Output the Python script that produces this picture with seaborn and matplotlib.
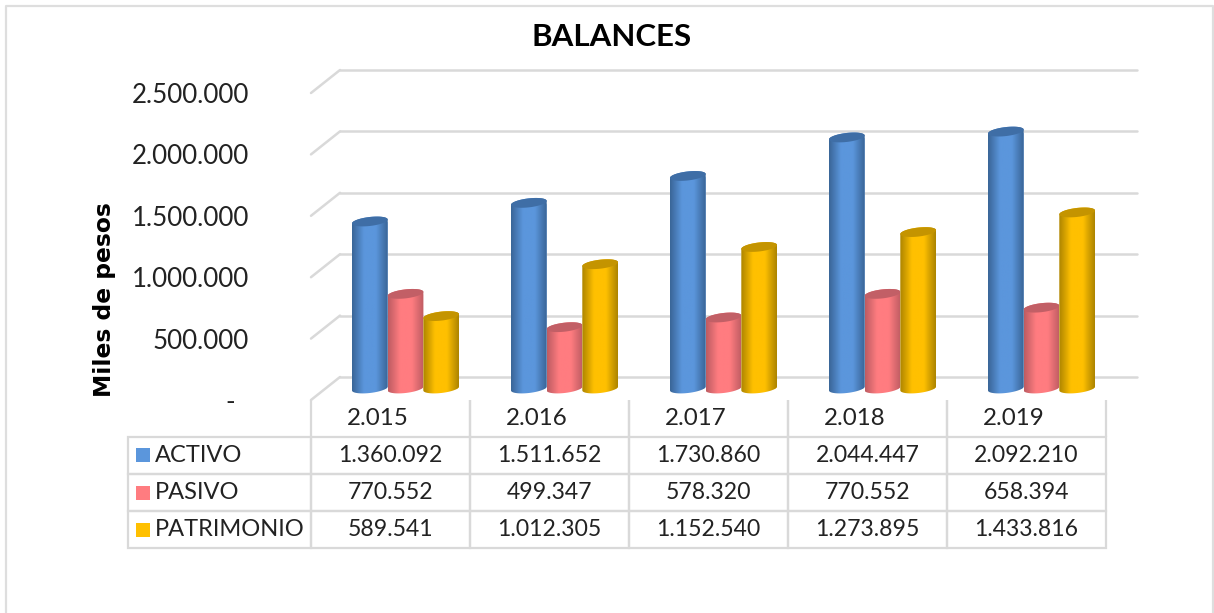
import numpy as np
import pandas as pd
import seaborn as sns
from matplotlib import pyplot as plt
from matplotlib.colors import LinearSegmentedColormap
from matplotlib.lines import Line2D
from matplotlib.patches import PathPatch, Rectangle
from matplotlib.path import Path
from matplotlib.transforms import IdentityTransform

years = ['2.015', '2.016', '2.017', '2.018', '2.019']
activo = [1360092, 1511652, 1730860, 2044447, 2092210]
pasivo = [770552, 499347, 578320, 770552, 658394]
patrimonio = [589541, 1012305, 1152540, 1273895, 1433816]
series_names = ['ACTIVO', 'PASIVO', 'PATRIMONIO']
y_ticks = [0, 500000, 1000000, 1500000, 2000000, 2500000]
y_labels = ['-  ', '500.000', '1.000.000', '1.500.000', '2.000.000', '2.500.000']

colors = ['#5B96DC', '#FF7C80', '#FFC000']
edges = ['#3A6698', '#BE5C62', '#AD8500']
tops = ['#3F6EA6', '#C25F66', '#C49400']

W, H = 1214, 613
GRID = '#D9D9D9'


def axes_px(left, top, right, bottom):
    return [left / W, (H - bottom) / H, (right - left) / W, (bottom - top) / H]


sns.set_theme(style='white')
plt.rcParams['font.family'] = ['Lato', 'DejaVu Sans']
plt.rcParams['image.composite_image'] = False  # each cylinder keeps its own clip

df = pd.DataFrame({
    'year': years * 3,
    'serie': np.repeat(series_names, 5),
    'valor': activo + pasivo + patrimonio,
})

fig = plt.figure(figsize=(W / 100, H / 100), dpi=100, facecolor='white')

# back wall, just the gridlines
back = fig.add_axes(axes_px(340, 70, 1137, 377))
back.set_ylim(0, 2500000)
back.set_xlim(0, 1)
back.set_yticks(y_ticks)
back.set_xticks([])
back.tick_params(left=False, labelleft=False)
back.grid(axis='y', color=GRID, lw=1.8)
for line in back.get_ygridlines():
    line.set_clip_on(False)
sns.despine(ax=back, left=True, bottom=True)

# front axis only carries the value labels
front = fig.add_axes(axes_px(311, 93, 1106, 400))
front.patch.set_alpha(0)
front.set_ylim(0, 2500000)
front.set_yticks(y_ticks, y_labels, fontsize=18.6, color='#222222')
front.set_xticks([])
front.tick_params(axis='y', length=0, pad=44.6)
sns.despine(ax=front, left=True, bottom=True)

# bars, axes run a bit below zero so the round bottoms are not cut
ax = fig.add_axes(axes_px(326, 81.5, 1121, 408.5))
ax.patch.set_alpha(0)
sns.barplot(data=df, x='year', y='valor', hue='serie', hue_order=series_names,
            palette=colors, width=0.673, gap=0, saturation=1, legend=False, ax=ax)
ax.set_ylim(-2500000 * 20 / 307, 2500000)
ax.set_xlim(-0.5, 4.5)
ax.axis('off')
ax.autoscale(False)

# turn each flat bar into a cylinder
bars = [p for p in ax.patches if p.get_height() > 0]
slope = 0.11
for i, bar in enumerate(bars):
    s = i // 5
    box = bar.get_window_extent()
    cx = (box.x0 + box.x1) / 2
    a = box.width / 2
    b = 4.5

    t = np.linspace(np.pi, 2 * np.pi, 40)
    xb = cx + a * np.cos(t)
    low = box.y0 + b * np.sin(t) + slope * (xb - cx)
    t2 = np.linspace(0, np.pi, 40)
    xt = cx + a * np.cos(t2)
    up = box.y1 + b * np.sin(t2) + slope * (xt - cx)
    outline = Path(np.r_[np.c_[xb, low], np.c_[xt, up], [[xb[0], low[0]]]], closed=True)

    t3 = np.linspace(0, 2 * np.pi, 80)
    xc = cx + a * np.cos(t3)
    cap = Path(np.c_[xc, box.y1 + b * np.sin(t3) + slope * (xc - cx)], closed=True)

    bar.set_clip_path(outline, IdentityTransform())
    bar.set_zorder(2 + i)

    cmap = LinearSegmentedColormap.from_list('c', [edges[s], colors[s], colors[s], edges[s]])
    grad = np.linspace(0, 1, 64).reshape(1, -1)
    im = ax.imshow(grad, cmap=cmap, aspect='auto', transform=IdentityTransform(),
                   extent=[box.x0, box.x1, box.y0 - 10, box.y1 + 10],
                   zorder=bar.get_zorder() + 0.1)
    im.set_clip_box(fig.bbox)
    im.set_clip_path(outline, IdentityTransform())
    ax.add_patch(PathPatch(cap, facecolor=tops[s], edgecolor='none', clip_on=False,
                           transform=IdentityTransform(), zorder=bar.get_zorder() + 0.2))

# overlay in pixel units: frame, side wall, data table
over = fig.add_axes([0, 0, 1, 1])
over.patch.set_alpha(0)
over.set_xlim(0, W)
over.set_ylim(H, 0)
over.axis('off')

over.add_line(Line2D([6, 6, 1213, 1213], [H, 6, 6, H], color='#DEDEDE', lw=1.6))
for v in y_ticks:
    y_back = H - back.transData.transform((0, v))[1]
    over.add_line(Line2D([340, 311], [y_back, y_back + 23], color=GRID, lw=1.8))

cell_text = [[''] + years,
             [series_names[0]] + [f'{v:,}'.replace(',', '.') for v in activo],
             [series_names[1]] + [f'{v:,}'.replace(',', '.') for v in pasivo],
             [series_names[2]] + [f'{v:,}'.replace(',', '.') for v in patrimonio]]
tbl = over.table(cellText=cell_text, cellLoc='center',
                 colWidths=[183, 159, 159, 159, 159, 159],
                 bbox=[128 / W, (H - 548) / H, 978 / W, 148 / H])
tbl.auto_set_font_size(False)
for (r, c), cell in tbl.get_celld().items():
    cell.set_edgecolor(GRID)
    cell.set_linewidth(1.6)
    cell.set_facecolor('none')
    cell.get_text().set_fontsize(16.6)
    cell.get_text().set_color('#222222')
    if r == 0:
        cell.visible_edges = 'LR' if c > 0 else 'open'
        cell.get_text().set_ha('left')
        cell.get_text().set_fontsize(17.4)
        cell.PAD = 0.226
    elif c == 0:
        cell.get_text().set_ha('left')
        cell.get_text().set_fontsize(17)
        cell.PAD = 0.148

row_y = [454.5, 492.5, 530]
for y, col in zip(row_y, colors):
    over.add_patch(Rectangle((136, y - 7), 14, 14, facecolor=col, edgecolor='none'))

over.text(612, 37, 'BALANCES', ha='center', va='center', fontsize=22.5, fontweight='bold', color='black')
over.text(104, 300, 'Miles de pesos', ha='center', va='center', rotation=90,
          fontsize=16.8, fontweight='bold', color='black', family='DejaVu Sans')

fig.savefig('out.png', dpi=100)
